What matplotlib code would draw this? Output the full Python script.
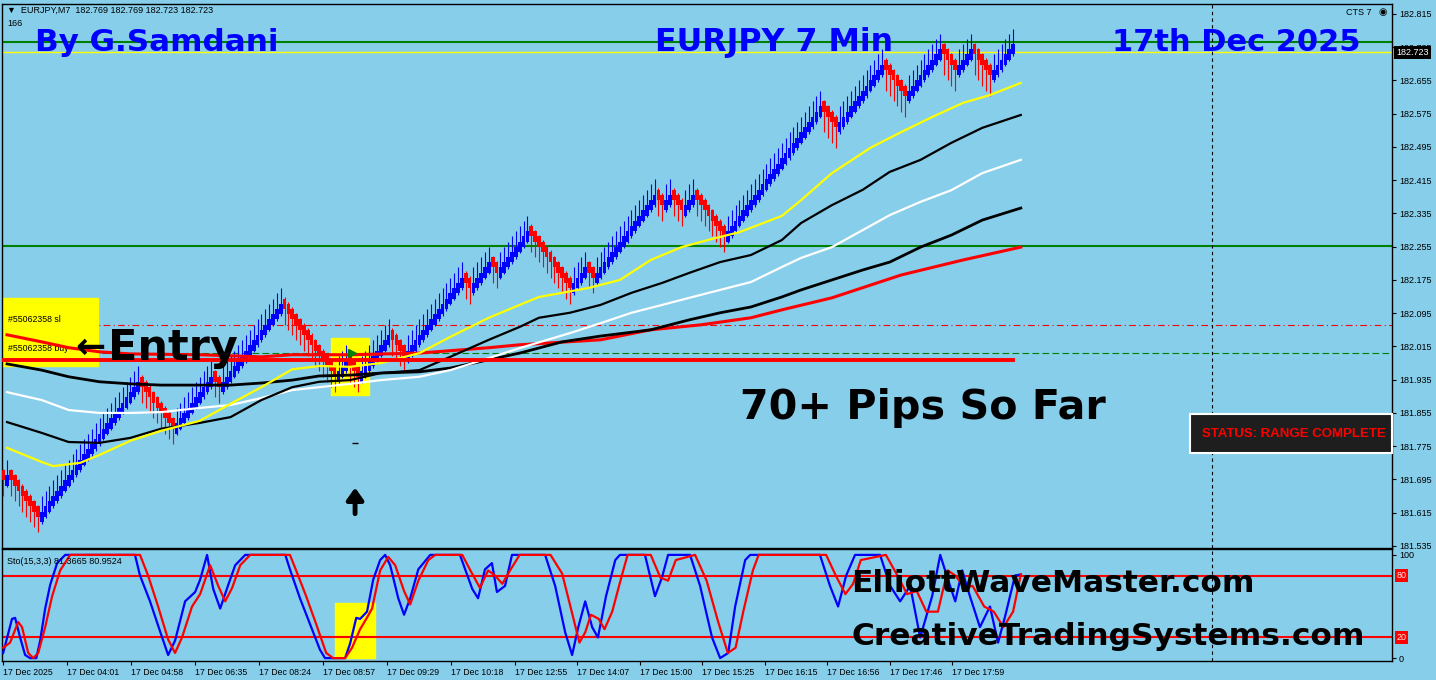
import numpy as np
import matplotlib
matplotlib.use('Agg')
import matplotlib.pyplot as plt
from matplotlib.patches import Rectangle

# ---- renko bricks: (direction, number of bricks, wick length in bricks)
START = 181.705
BRICK = 0.0125
RUNS = [(-1, 1, 3), (1, 1, 3), (-1, 8, 3), (1, 26, 3), (-1, 9, 3), (1, 10, 3),
        (-1, 2, 3), (1, 16, 3), (-1, 14, 3), (1, 3, 3), (-1, 3, 3), (1, 8, 3),
        (-1, 4, 3), (1, 15, 3), (-1, 2, 3), (1, 5, 3), (-1, 2, 3), (1, 8, 3),
        (-1, 11, 3), (1, 4, 3), (-1, 2, 3), (1, 16, 3), (-1, 2, 3), (1, 2, 3),
        (-1, 3, 3), (1, 3, 3), (-1, 8, 3), (1, 25, 3), (-1, 4, 4), (1, 12, 3),
        (-1, 6, 4), (1, 9, 3), (-1, 4, 4), (1, 4, 3), (-1, 5, 4), (1, 6, 3)]

# ---- moving averages (bar index, price)
MA_YELLOW_X = [1, 10, 13, 20, 25, 33, 41, 51, 59, 67, 75, 82, 90, 98, 108, 116, 126, 134,
               139, 145, 152, 160, 168, 176, 184, 191, 202, 207, 215, 225, 233, 241, 249, 256, 264]
MA_YELLOW = [181.771, 181.737, 181.727, 181.735, 181.754, 181.788, 181.812, 181.836, 181.877,
             181.917, 181.960, 181.968, 181.966, 181.975, 181.999, 182.038, 182.084, 182.115,
             182.134, 182.144, 182.156, 182.175, 182.223, 182.254, 182.274, 182.290, 182.329,
             182.367, 182.432, 182.493, 182.531, 182.567, 182.601, 182.620, 182.649]
MA_BLACK1_X = [1, 10, 17, 25, 33, 41, 51, 59, 67, 75, 82, 90, 98, 108, 116, 126, 134, 139,
               147, 155, 163, 171, 178, 186, 194, 202, 207, 215, 223, 230, 238, 246, 254, 264]
MA_BLACK1 = [181.833, 181.807, 181.785, 181.783, 181.795, 181.817, 181.831, 181.845, 181.886,
             181.917, 181.930, 181.934, 181.951, 181.958, 181.990, 182.031, 182.062, 182.084,
             182.096, 182.115, 182.144, 182.168, 182.192, 182.218, 182.235, 182.271, 182.312,
             182.355, 182.392, 182.435, 182.464, 182.505, 182.541, 182.572]
MA_WHITE_X = [1, 10, 17, 25, 33, 41, 51, 59, 67, 75, 82, 90, 98, 108, 116, 126, 134, 147,
              155, 163, 171, 178, 186, 194, 202, 207, 215, 223, 230, 238, 246, 254, 264]
MA_WHITE = [181.905, 181.886, 181.862, 181.855, 181.855, 181.857, 181.867, 181.874, 181.891,
            181.910, 181.917, 181.925, 181.934, 181.942, 181.958, 181.987, 182.011, 182.047,
            182.071, 182.096, 182.115, 182.132, 182.151, 182.170, 182.206, 182.228, 182.254,
            182.295, 182.331, 182.363, 182.391, 182.432, 182.464]
MA_BLACK2_X = [1, 10, 17, 25, 33, 41, 51, 59, 67, 75, 82, 90, 98, 108, 116, 126, 134, 145,
               155, 168, 178, 186, 194, 202, 207, 215, 223, 230, 238, 246, 254, 264]
MA_BLACK2 = [181.973, 181.958, 181.942, 181.930, 181.925, 181.922, 181.922, 181.922, 181.927,
             181.934, 181.944, 181.946, 181.951, 181.954, 181.963, 181.983, 181.999, 182.026,
             182.040, 182.055, 182.079, 182.096, 182.110, 182.134, 182.151, 182.175, 182.199,
             182.218, 182.254, 182.283, 182.319, 182.348]
MA_RED_X = [1, 10, 17, 25, 33, 51, 67, 75, 90, 108, 126, 134, 155, 168, 181, 194, 202, 215,
            233, 249, 264]
MA_RED = [182.043, 182.026, 182.012, 182.002, 181.997, 181.995, 181.990, 181.995, 181.995,
          181.999, 182.012, 182.019, 182.031, 182.055, 182.067, 182.084, 182.103, 182.132,
          182.187, 182.223, 182.254]

# ---- horizontal levels
GREEN_TOP = 182.748
GREEN_LOW = 182.257
BID = 182.723
SL_LEVEL = 182.067
BUY_LEVEL = 182.000
RED_FLAT = 181.982

PRICE_TICKS = [182.815, 182.735, 182.655, 182.575, 182.495, 182.415, 182.335, 182.255,
               182.175, 182.095, 182.015, 181.935, 181.855, 181.775, 181.695, 181.615, 181.535]

# ---- stochastic (bar index, value)
STO_K_X = [0, 2.3, 3.1, 4.4, 5.7, 7, 8.6, 9.6, 10.9, 12.2, 14, 16.1, 34.2, 35.5, 38.1, 40.7,
           42.8, 44.6, 47.2, 49.8, 51.1, 52.9, 54.5, 56.3, 58.4, 60.2, 62.8, 73.2, 74.4, 77,
           79.6, 82.2, 83.5, 88.7, 90, 91.6, 92.6, 94.4, 96, 97.8, 99.1, 100.4, 102.5, 104,
           105.6, 107.7, 110.8, 118.5, 121.7, 123.2, 125, 126.8, 128.1, 130.2, 132, 140.6,
           143.2, 145.8, 147.6, 149.2, 151, 152.8, 154.3, 156.4, 158.8, 160, 166.5, 169.1,
           170.9, 172.5, 178.2, 180.8, 183.9, 186, 188.1, 189.9, 192.5, 193.8, 211.9, 214.5,
           216.6, 218.7, 221, 227.5, 230.1, 232.7, 235.3, 237.9, 241, 243.1, 245.2, 247,
           248.8, 250.8, 253.4, 256, 258.1, 259.9, 262.5, 264]
STO_K = [5, 38, 39, 20, 3, 0, 0, 17, 48, 71, 92, 100, 100, 80, 55, 26,
         3, 17, 55, 64, 76, 100, 67, 48, 71, 90, 100, 100, 86, 58,
         33, 8, 0, 0, 14, 39, 38, 45, 76, 95, 100, 90, 58, 42,
         58, 86, 100, 100, 67, 58, 86, 92, 64, 70, 100, 100,
         70, 25, 3, 30, 55, 30, 20, 60, 95, 100, 100, 60,
         78, 100, 100, 70, 20, 0, 5, 50, 95, 100, 100, 70,
         50, 80, 100, 100, 70, 55, 70, 20, 60, 100, 75, 55,
         85, 60, 30, 50, 15, 40, 80, 81]
STO_D_X = [0, 1.8, 3.9, 4.9, 6.5, 7.8, 9.1, 10.9, 12.7, 14.8, 17.4, 35.5, 37.6, 40.2, 42.8,
           44.6, 46.4, 49, 51.1, 53.7, 55.8, 57.6, 59.4, 61.5, 64.1, 74.4, 76, 78.6, 81.2,
           83.8, 85.6, 88.7, 90.5, 92.6, 94.2, 95.7, 97.8, 99.9, 101.7, 104, 105.6, 107.7,
           110.3, 112.1, 119.1, 121.2, 123.7, 125.8, 127.6, 129.5, 131.5, 134, 142, 145,
           147.5, 149.5, 151, 152.5, 154.5, 156, 158, 160.5, 162, 168, 170.5, 172.5, 174.5,
           179.5, 182.5, 185.5, 188, 190, 192, 194.5, 196, 213.5, 216, 218.5, 220.5, 222.5,
           229, 232, 234.5, 237, 239.5, 242.5, 245, 247, 249.5, 251.5, 254.5, 257, 259.5,
           262, 264]
STO_D = [10, 15, 35, 30, 5, 0, 5, 30, 60, 85, 100, 100, 80, 50, 18,
         5, 20, 50, 62, 90, 70, 55, 68, 90, 100, 100, 85, 60, 33,
         5, 0, 0, 10, 28, 38, 48, 85, 98, 90, 65, 52, 75,
         95, 100, 100, 85, 68, 85, 80, 72, 85, 100, 100, 82,
         45, 15, 25, 42, 38, 28, 45, 80, 100, 100, 78, 75, 95,
         100, 75, 35, 5, 10, 45, 85, 100, 100, 80, 62, 72, 95,
         100, 80, 62, 65, 45, 45, 85, 80, 68, 70, 50, 45, 30,
         45, 81]

TIME_TICKS = [0, 16.6, 33.2, 49.8, 66.4, 83, 99.6, 116.2, 132.8, 148.9, 165.2, 181.3,
              197.7, 213.7, 230.1, 246.2]
TIME_LABELS = ['17 Dec 2025', '17 Dec 04:01', '17 Dec 04:58', '17 Dec 06:35', '17 Dec 08:24',
               '17 Dec 08:57', '17 Dec 09:29', '17 Dec 10:18', '17 Dec 12:55', '17 Dec 14:07',
               '17 Dec 15:00', '17 Dec 15:25', '17 Dec 16:15', '17 Dec 16:56', '17 Dec 17:46',
               '17 Dec 17:59']

SKY = '#87CEEB'
SMALL = ['Liberation Sans', 'DejaVu Sans']
BIG = ['DejaVu Sans']

W, H = 1436, 680
fig = plt.figure(figsize=(W / 100, H / 100), dpi=100, facecolor=SKY)
ax = fig.add_axes([2 / W, (H - 548) / H, 1390 / W, 544 / H], facecolor=SKY)
sax = fig.add_axes([2 / W, (H - 661) / H, 1390 / W, 112 / H], facecolor=SKY)

XMIN, XMAX = -0.3, 360.3
VLINE_X = 313.6

# ---- build bricks
closes, dirs, wicks = [], [], []
lvl = START
for d, n, w in RUNS:
    for _ in range(n):
        lvl += d * BRICK
        closes.append(lvl)
        dirs.append(d)
        wicks.append(w)
closes = np.array(closes)
dirs = np.array(dirs)
wicks = np.array(wicks)
idx = np.arange(len(closes))
body = 2.0 * BRICK
bottoms = np.where(dirs > 0, closes - body, closes)
highs = np.where(dirs > 0, closes + wicks * BRICK, closes + body + 0.3 * BRICK)
lows = np.where(dirs > 0, closes - body - 0.3 * BRICK, closes - wicks * BRICK)
cols = np.where(dirs > 0, '#0000FF', '#FF0000')

# horizontal lines
ax.axhline(GREEN_TOP, color='#008000', lw=1.5, zorder=1)
ax.axhline(GREEN_LOW, color='#008000', lw=1.5, zorder=1)
ax.axhline(BID, color='#FFFF00', lw=1.0, zorder=1)
ax.axhline(SL_LEVEL, color='#FF0000', lw=0.8, ls=(0, (6, 3, 1, 3)), zorder=1)
ax.axhline(BUY_LEVEL, color='#008000', lw=0.8, ls=(0, (6, 3)), zorder=1)
ax.axvline(VLINE_X, color='black', lw=0.8, ls=(0, (3, 3)), zorder=1)

# yellow boxes
ax.add_patch(Rectangle((-0.3, 181.968), 24.9, 0.164, color='#FFFF00', zorder=1.5))
ax.add_patch(Rectangle((85, 181.898), 10, 0.137, color='#FFFF00', zorder=1.5))

ax.vlines(idx, lows, highs, colors=cols, lw=0.8, zorder=3)
ax.bar(idx, np.full(len(idx), body), bottom=bottoms, width=0.95, color=cols, linewidth=0,
       antialiased=False, zorder=3)

ax.plot(MA_RED_X, MA_RED, color='#FF0000', lw=2.2, zorder=4)
ax.plot(MA_BLACK2_X, MA_BLACK2, color='black', lw=2.0, zorder=4)
ax.plot(MA_WHITE_X, MA_WHITE, color='white', lw=1.6, zorder=4)
ax.plot(MA_BLACK1_X, MA_BLACK1, color='black', lw=1.6, zorder=4)
ax.plot(MA_YELLOW_X, MA_YELLOW, color='#FFFF00', lw=1.6, zorder=4)
ax.plot([0, len(idx) - 1], [RED_FLAT, RED_FLAT], color='#FF0000', lw=2.8, zorder=4)
ax.plot([90.5], [BUY_LEVEL], marker='>', color='#008000', ms=6, zorder=5)
ax.plot([91.3], [181.783], marker='_', color='black', ms=5, zorder=5)

ax.set_xlim(XMIN, XMAX)
ax.set_ylim(181.530, 182.839)
ax.yaxis.tick_right()
ax.set_yticks(PRICE_TICKS)
ax.set_yticklabels(['%.3f' % p for p in PRICE_TICKS], fontsize=6.5, family=SMALL)
ax.tick_params(axis='y', length=3, pad=2, colors='black')
ax.set_xticks([])
for s in ax.spines.values():
    s.set_color('black')
    s.set_linewidth(1.0)

ax.text(1.003, BID, '182.723', transform=ax.get_yaxis_transform(), fontsize=6.5, family=SMALL,
        color='white', va='center', ha='left',
        bbox=dict(facecolor='black', edgecolor='none', pad=1.5), zorder=6)
ax.text(0.0036, 0.989, '\u25bc  EURJPY,M7  182.769 182.769 182.723 182.723', transform=ax.transAxes,
        fontsize=6.5, family=SMALL, va='center', ha='left')
ax.text(0.0036, 0.965, '166', transform=ax.transAxes, fontsize=6.5, family=SMALL, va='center')
ax.text(0.985, 0.985, 'CTS 7', transform=ax.transAxes, fontsize=6.5, family=SMALL,
        va='center', ha='right')
ax.text(0.9965, 0.985, '\u25c9', transform=ax.transAxes, fontsize=7, family=['DejaVu Sans'],
        va='center', ha='right')
ax.text(0.004, SL_LEVEL + 0.014, '#55062358 sl', fontsize=6.3, family=SMALL,
        transform=ax.get_yaxis_transform(), va='center', zorder=2)
ax.text(0.004, BUY_LEVEL + 0.011, '#55062358 buy', fontsize=6.3, family=SMALL,
        transform=ax.get_yaxis_transform(), va='center', zorder=2)

ax.text(0.0237, 0.93, 'By G.Samdani', transform=ax.transAxes, fontsize=22.3, fontweight='bold',
        family=BIG, color='#0000FF', va='center', zorder=7)
ax.text(0.47, 0.93, 'EURJPY 7 Min', transform=ax.transAxes, fontsize=22.8, fontweight='bold',
        family=BIG, color='#0000FF', va='center', zorder=7)
ax.text(0.7986, 0.93, '17th Dec 2025', transform=ax.transAxes, fontsize=22.0, fontweight='bold',
        family=BIG, color='#0000FF', va='center', zorder=7)
ax.text(0.0525, 0.3676, '\u2190', transform=ax.transAxes, fontsize=26, fontweight='bold',
        family=BIG, color='black', va='center', zorder=7)
ax.text(0.0765, 0.3676, 'Entry', transform=ax.transAxes, fontsize=31, fontweight='bold',
        family=BIG, color='black', va='center', zorder=7)
ax.text(0.531, 0.257, '70+ Pips So Far', transform=ax.transAxes, fontsize=29.7, fontweight='bold',
        family=BIG, color='black', va='center', zorder=7)
ax.annotate('', xy=(0.254, 0.116), xytext=(0.254, 0.058), xycoords='axes fraction',
            arrowprops=dict(arrowstyle='-|>,head_width=0.5,head_length=0.7', lw=3.5,
                            color='black'), zorder=7)

# status box
fig.patches.append(Rectangle((1190 / W, (H - 453) / H), 202 / W, 39 / H, transform=fig.transFigure,
                             facecolor='#1E1E1E', edgecolor='white', lw=1.5, zorder=10))
fig.text(1294 / W, (H - 434) / H, 'STATUS: RANGE COMPLETE', fontsize=9.5, fontweight='bold',
         family=SMALL, color='#FF0000', ha='center', va='center', zorder=11)

# ---- stochastic panel
sax.add_patch(Rectangle((86, 0), 10.5, 53, color='#FFFF00', zorder=1))
sax.axhline(80, color='#FF0000', lw=1.5, zorder=2)
sax.axhline(20, color='#FF0000', lw=1.5, zorder=2)
sax.axvline(VLINE_X, color='black', lw=0.8, ls=(0, (3, 3)), zorder=1)
sax.plot(STO_K_X, STO_K, color='#0000FF', lw=1.6, zorder=3)
sax.plot(STO_D_X, STO_D, color='#FF0000', lw=1.6, zorder=3)
sax.set_xlim(XMIN, XMAX)
sax.set_ylim(-2.8, 105.7)
sax.yaxis.tick_right()
sax.set_yticks([100, 0])
sax.set_yticklabels(['100', '0'], fontsize=6.5, family=SMALL)
sax.tick_params(axis='y', length=3, pad=2)
for lv in (80, 20):
    sax.text(1.003, lv, str(lv), transform=sax.get_yaxis_transform(), fontsize=6.5, family=SMALL,
             color='#FFE0E0', va='center', ha='left',
             bbox=dict(facecolor='#FF0000', edgecolor='none', pad=1.2))
sax.set_xticks(TIME_TICKS)
sax.set_xticklabels(TIME_LABELS, fontsize=6.3, family=SMALL, ha='left')
sax.tick_params(axis='x', length=3, pad=2)
for s in sax.spines.values():
    s.set_color('black')
    s.set_linewidth(1.0)
sax.text(0.0036, 0.89, 'Sto(15,3,3) 81.3665 80.9524', transform=sax.transAxes, fontsize=6.5,
         family=SMALL, va='center')
sax.text(0.611, 0.696, 'ElliottWaveMaster.com', transform=sax.transAxes, fontsize=22.5,
         fontweight='bold', family=BIG, color='black', va='center', zorder=7)
sax.text(0.611, 0.223, 'CreativeTradingSystems.com', transform=sax.transAxes, fontsize=22.5,
         fontweight='bold', family=BIG, color='black', va='center', zorder=7)

fig.savefig('out.png', dpi=100, facecolor=SKY)
